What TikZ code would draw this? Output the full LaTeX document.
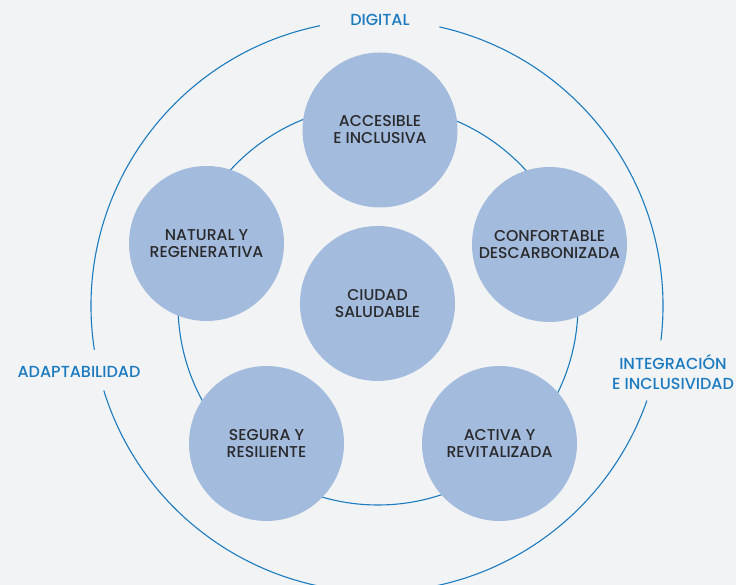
\documentclass[tikz,border=0pt]{standalone}
\usepackage{fontspec}
\setmainfont{Poppins}[UprightFont={* Medium}]
\definecolor{bgcol}{HTML}{F2F3F5}
\definecolor{ringblue}{HTML}{1B7BC0}
\definecolor{petal}{HTML}{A3BBDD}
\definecolor{inktext}{HTML}{2A2A2D}
\begin{document}
\begin{tikzpicture}[x=1pt, y=1pt,
		n/.style = {circle, fill=petal, minimum size=155pt, inner sep=0pt, align=center, text=inktext, font=\fontsize{15.7}{17}\selectfont},
		ax/.style = {text=ringblue, align=center, font=\fontsize{16}{19.5}\selectfont},
		ring/.style = {ringblue, line width=1.1pt}]
				\fill[bgcol] (0,0) rectangle (736,585);
				\useasboundingbox (0,0) rectangle (736,585);
				
				\coordinate (o) at (377,279);
				\draw[ring] (378,280) circle (200pt);
				\draw[ring] (o) ++(101.5:286pt) arc[start angle=101.5, end angle=188.8, radius=286pt];
				\draw[ring] (o) ++(197.2:286pt) arc[start angle=197.2, end angle=340.7, radius=286pt];
				\draw[ring] (o) ++(-6.9:286pt) arc[start angle=-6.9, end angle=77.4, radius=286pt];
				
				\node[n] (c) at (377.5,281.5) {CIUDAD\\SALUDABLE};
				\node[n] (1) at (380,455) {ACCESIBLE\\E INCLUSIVA};
				\node[n] (2) at (549.5,340.5) {CONFORTABLE\\DESCARBONIZADA};
				\node[n] (3) at (499.5,141.5) {ACTIVA Y\\REVITALIZADA};
				\node[n] (4) at (266.5,141.5) {SEGURA Y\\RESILIENTE};
				\node[n] (5) at (206.5,341.5) {NATURAL Y\\REGENERATIVA};
				
				\node[ax] (dig) at (380,565) {DIGITAL};
				\node[ax] (ada) at (79,213) {ADAPTABILIDAD};
				\node[ax] (int) at (673,213) {INTEGRACIÓN\\E INCLUSIVIDAD};
			\end{tikzpicture}
\end{document}
